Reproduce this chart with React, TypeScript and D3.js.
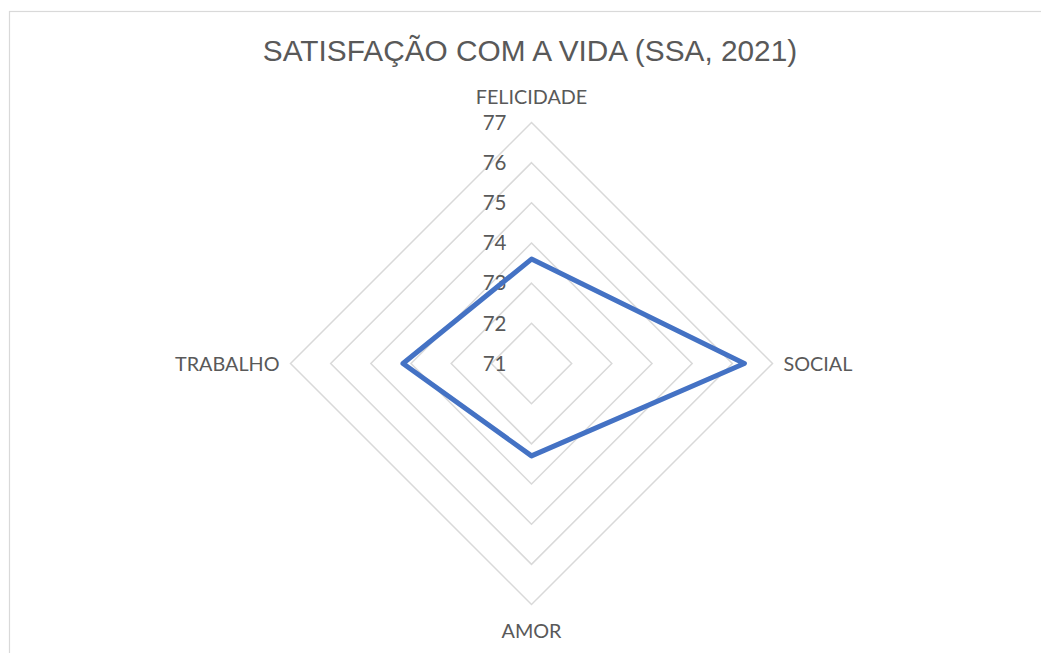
import React, { useRef, useEffect } from 'react';
import * as d3 from 'd3';

// categorias e valores
const categories = ['FELICIDADE', 'SOCIAL', 'AMOR', 'TRABALHO'];
const values = [73.6, 76.3, 73.3, 74.2];
const ticks = [71, 72, 73, 74, 75, 76, 77];
const title = 'SATISFAÇÃO COM A VIDA (SSA, 2021)';

const W = 1041;
const H = 653;

const RadarChart = () => {
  const svgRef = useRef<SVGSVGElement>(null);

  useEffect(() => {
    const svg = d3.select(svgRef.current).attr('width', W).attr('height', H);
    svg.selectAll('*').remove();

    const cx = 531.5;
    const cy = 363.5;
    const rScale = d3.scaleLinear().domain([71, 77]).range([0, 241]);
    const angle = d3.scaleBand().domain(categories).range([0, 2 * Math.PI]).align(0).paddingInner(0).paddingOuter(0);
    const ang = (c: string) => angle(c) as number;

    // moldura
    svg.append('rect')
      .attr('x', 9.5).attr('y', 11.5)
      .attr('width', W + 20).attr('height', H + 20)
      .attr('fill', '#fff').attr('stroke', '#d9d9d9').attr('stroke-width', 1.2);

    svg.append('text')
      .attr('x', 530)
      .attr('y', 61)
      .attr('text-anchor', 'middle')
      .attr('font-family', 'Liberation Sans, Arial, sans-serif')
      .attr('font-size', 29.8)
      .attr('fill', '#595959')
      .text(title);

    const g = svg.append('g').attr('transform', `translate(${cx},${cy})`);

    const radial = d3.lineRadial<string>()
      .angle(d => ang(d))
      .curve(d3.curveLinearClosed);

    // anéis da grade
    g.selectAll('.ring')
      .data(ticks.slice(1))
      .enter()
      .append('path')
      .attr('d', t => radial.radius(() => rScale(t))(categories))
      .attr('fill', 'none')
      .attr('stroke', '#d9d9d9')
      .attr('stroke-width', 1.5);

    // rótulos dos ticks
    g.selectAll('.tick')
      .data(ticks)
      .enter()
      .append('text')
      .attr('x', -25)
      .attr('y', t => -rScale(t))
      .attr('dy', '0.35em')
      .attr('text-anchor', 'end')
      .attr('font-family', 'Lato, Open Sans, sans-serif')
      .attr('font-size', 20.5)
      .attr('fill', '#595959')
      .text(t => String(t));

    // série
    const series = categories.map((c, i) => ({ c, v: values[i] }));
    const seriesLine = d3.lineRadial<{ c: string; v: number }>()
      .angle(d => ang(d.c))
      .radius(d => rScale(d.v))
      .curve(d3.curveLinearClosed);

    g.append('path')
      .attr('d', seriesLine(series))
      .attr('fill', 'none')
      .attr('stroke', '#4472C4')
      .attr('stroke-width', 5)
      .attr('stroke-linejoin', 'round');

    // rótulos das categorias
    const R = rScale(77);
    const labelPos: Record<string, { x: number; y: number; anchor: string }> = {
      FELICIDADE: { x: 0, y: -R - 19, anchor: 'middle' },
      SOCIAL: { x: R + 11, y: 7, anchor: 'start' },
      AMOR: { x: 0, y: R + 33, anchor: 'middle' },
      TRABALHO: { x: -R - 11, y: 7, anchor: 'end' },
    };
    g.selectAll('.cat')
      .data(categories)
      .enter()
      .append('text')
      .attr('x', c => labelPos[c].x)
      .attr('y', c => labelPos[c].y)
      .attr('text-anchor', c => labelPos[c].anchor)
      .attr('font-family', 'Lato, Open Sans, sans-serif')
      .attr('font-size', 19.8)
      .attr('fill', '#595959')
      .text(c => c);
  }, []);

  return <svg ref={svgRef} style={{ display: 'block', position: 'absolute', left: 0, top: 0 }}></svg>;
};

export default function App() {
  return <RadarChart />;
}
